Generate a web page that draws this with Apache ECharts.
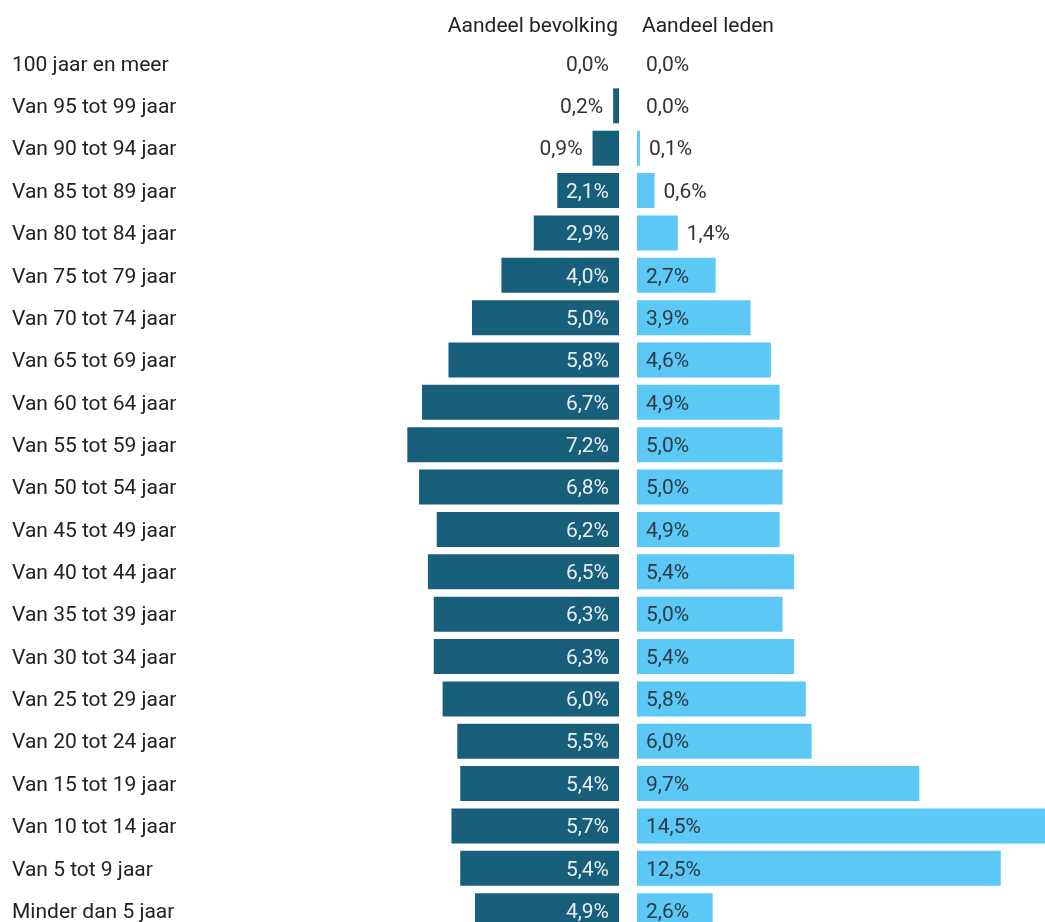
<!DOCTYPE html>
<html>
<head>
<meta charset="utf-8">
<script src="https://cdn.jsdelivr.net/npm/echarts@6/dist/echarts.min.js"></script>
<style>
html,body{margin:0;padding:0;background:#fff;}
#chart{width:1045px;height:922px;}
</style>
</head>
<body>
<div id="chart"></div>
<script>
const categories = ['100 jaar en meer','Van 95 tot 99 jaar','Van 90 tot 94 jaar','Van 85 tot 89 jaar','Van 80 tot 84 jaar','Van 75 tot 79 jaar','Van 70 tot 74 jaar','Van 65 tot 69 jaar','Van 60 tot 64 jaar','Van 55 tot 59 jaar','Van 50 tot 54 jaar','Van 45 tot 49 jaar','Van 40 tot 44 jaar','Van 35 tot 39 jaar','Van 30 tot 34 jaar','Van 25 tot 29 jaar','Van 20 tot 24 jaar','Van 15 tot 19 jaar','Van 10 tot 14 jaar','Van 5 tot 9 jaar','Minder dan 5 jaar'];
const bevolking = [0.0,0.2,0.9,2.1,2.9,4.0,5.0,5.8,6.7,7.2,6.8,6.2,6.5,6.3,6.3,6.0,5.5,5.4,5.7,5.4,4.9];
const leden = [0.0,0.0,0.1,0.6,1.4,2.7,3.9,4.6,4.9,5.0,5.0,4.9,5.4,5.0,5.4,5.8,6.0,9.7,14.5,12.5,2.6];
const headers = ['Aandeel bevolking','Aandeel leden'];

const FONT = 'Roboto';
const FS = 21;
const fmt = v => v.toFixed(1).replace('.', ',') + '%';
const DARK = '#175f7b', LIGHT = '#5bc8f5';

const leftScale = 29.4, rightScale = 29.1;
const leftMax = 8, rightMax = 15;
const leftEnd = 619, rightStart = 637;
const leftGridLeft = leftEnd - leftMax * leftScale;
const gridTop = 42.3, gridHeight = 21 * 42.36;

const leftData = bevolking.map(v => ({
  value: v,
  label: v < 2 ? {position: 'left', color: '#333', distance: 10} : {position: 'insideRight', color: '#e8f0f3', distance: 10}
}));
const rightData = leden.map(v => ({
  value: v,
  label: v < 2 ? {position: 'right', color: '#333', distance: 9} : {position: 'insideLeft', color: '#2b3a44', distance: 9}
}));

const chart = echarts.init(document.getElementById('chart'));
chart.setOption({
  animation: false,
  textStyle: {fontFamily: FONT},
  grid: [
    {left: leftGridLeft, width: leftMax * leftScale, top: gridTop, height: gridHeight, outerBoundsMode: 'none', containLabel: false},
    {left: rightStart, width: rightMax * rightScale, top: gridTop, height: gridHeight, outerBoundsMode: 'none', containLabel: false}
  ],
  xAxis: [
    {gridIndex: 0, type: 'value', min: 0, max: leftMax, inverse: true, show: false},
    {gridIndex: 1, type: 'value', min: 0, max: rightMax, show: false}
  ],
  yAxis: [
    {gridIndex: 0, type: 'category', data: categories, inverse: true, position: 'left',
     axisLine: {show: false}, axisTick: {show: false}, splitLine: {show: false},
     axisLabel: {align: 'left', margin: leftGridLeft - 12, fontSize: FS, color: '#222', fontFamily: FONT,
       formatter: v => '{a|' + v + '}',
       rich: {a: {fontSize: FS, color: '#222', fontFamily: FONT, padding: [4, 0, 0, 0]}}}},
    {gridIndex: 1, type: 'category', data: categories, inverse: true, show: false}
  ],
  graphic: [
    {type: 'text', x: 618, y: 26.5, style: {text: headers[0], textAlign: 'right', textVerticalAlign: 'middle', font: FS + 'px Roboto', fill: '#222'}},
    {type: 'text', x: 642, y: 26.5, style: {text: headers[1], textAlign: 'left', textVerticalAlign: 'middle', font: FS + 'px Roboto', fill: '#222'}}
  ],
  series: [
    {type: 'bar', xAxisIndex: 0, yAxisIndex: 0, data: leftData, barWidth: 35,
     itemStyle: {color: DARK},
     label: {show: true, fontSize: FS, fontFamily: FONT, offset: [0, 2], formatter: p => fmt(p.value)}},
    {type: 'bar', xAxisIndex: 1, yAxisIndex: 1, data: rightData, barWidth: 35,
     itemStyle: {color: LIGHT},
     label: {show: true, fontSize: FS, fontFamily: FONT, offset: [0, 2], formatter: p => fmt(p.value)}}
  ]
});
</script>
</body>
</html>
